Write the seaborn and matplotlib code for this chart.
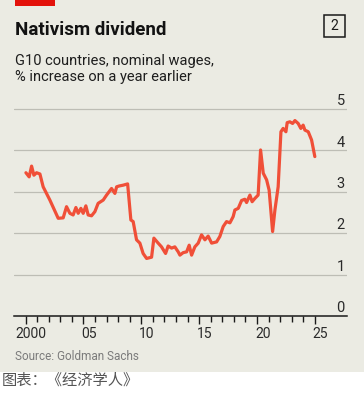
import matplotlib.pyplot as plt
import matplotlib.patches as patches
import numpy as np
import pandas as pd
import seaborn as sns

# G10 nominal wage growth, % y/y
years = [2000.03, 2000.31, 2000.52, 2000.72, 2000.95, 2001.24, 2001.52, 2002.10, 2002.82, 2003.25,
         2003.54, 2003.83, 2004.11, 2004.35, 2004.55, 2004.78, 2004.98, 2005.21, 2005.41, 2005.70,
         2005.99, 2006.27, 2006.71, 2007.00, 2007.43, 2007.72, 2007.87, 2008.09, 2008.44, 2008.82,
         2009.10, 2009.30, 2009.59, 2009.88, 2010.16, 2010.46, 2010.89, 2011.09, 2011.46, 2011.75,
         2012.10, 2012.32, 2012.62, 2012.90, 2013.19, 2013.34, 2013.62, 2013.92, 2014.14, 2014.35,
         2014.63, 2014.92, 2015.21, 2015.50, 2015.78, 2016.08, 2016.51, 2016.79, 2017.08, 2017.37,
         2017.66, 2017.94, 2018.09, 2018.38, 2018.67, 2018.95, 2019.10, 2019.39, 2019.58, 2019.82,
         2020.10, 2020.31, 2020.54, 2020.83, 2021.05, 2021.35, 2021.55, 2021.83, 2022.07, 2022.26,
         2022.50, 2022.61, 2022.84, 2023.08, 2023.28, 2023.56, 2023.79, 2023.99, 2024.14, 2024.43,
         2024.72, 2025.00]
wages = [3.46, 3.36, 3.62, 3.40, 3.46, 3.43, 3.12, 2.80, 2.36, 2.37,
         2.64, 2.48, 2.44, 2.62, 2.48, 2.60, 2.48, 2.66, 2.44, 2.42,
         2.52, 2.72, 2.80, 2.92, 3.08, 2.96, 3.12, 3.14, 3.16, 3.19,
         2.32, 2.28, 1.84, 1.76, 1.51, 1.39, 1.42, 1.88, 1.76, 1.67,
         1.51, 1.69, 1.64, 1.67, 1.55, 1.47, 1.53, 1.55, 1.71, 1.47,
         1.67, 1.76, 1.96, 1.84, 1.93, 1.76, 1.79, 1.92, 2.16, 2.28,
         2.25, 2.40, 2.56, 2.60, 2.79, 2.82, 2.74, 2.92, 2.76, 2.84,
         2.92, 4.01, 3.45, 3.29, 3.04, 2.04, 2.56, 3.12, 4.45, 4.53,
         4.45, 4.67, 4.69, 4.65, 4.72, 4.65, 4.53, 4.61, 4.49, 4.45,
         4.25, 3.85]

y_ticks = [0, 1, 2, 3, 4, 5]
x_label_years = [2000, 2005, 2010, 2015, 2020, 2025]
x_labels = ['2000', '05', '10', '15', '20', '25']

bg = '#ebebe3'
red_line = '#f04f38'

sns.set_theme(style='white')
plt.rcParams['font.family'] = ['Roboto', 'DejaVu Sans']

fig = plt.figure(figsize=(3.64, 3.98), dpi=100)
fig.patch.set_facecolor('white')

# beige panel, white strip at the bottom for the caption
fig.add_artist(patches.Rectangle((0, 26/398), 1, 1 - 26/398, transform=fig.transFigure,
                                 facecolor=bg, edgecolor='none', zorder=-10))
# red flag top left
fig.add_artist(patches.Rectangle((15/364, 1 - 6/398), 40/364, 6/398, transform=fig.transFigure,
                                 facecolor='#e3120b', edgecolor='none'))

ax = fig.add_axes([14/364, 82/398, 333/364, 209.1/398])
ax.set_facecolor('none')

df = pd.DataFrame({'year': years, 'wages': wages})
sns.lineplot(data=df, x='year', y='wages', ax=ax, color=red_line, lw=2.3, zorder=3)

ax.set_xlim(1999.0, 2027.78)
ax.set_ylim(0, 5.05)

# gridlines + labels above them, on the right
for v in y_ticks:
    if v > 0:
        ax.axhline(v, color='#bdbdb5', lw=0.9, zorder=1)
    ax.text(0.993, v + 0.09, str(v), transform=ax.get_yaxis_transform(),
            ha='right', va='baseline', fontsize=10.5, color='#2a2a2a')
ax.set_yticks([])

for s in ['top', 'right', 'left']:
    ax.spines[s].set_visible(False)
ax.spines['bottom'].set_color('#1a1a1a')
ax.spines['bottom'].set_linewidth(1.1)

ax.set_xticks(x_label_years)
ax.set_xticklabels([])
ax.set_xticks(np.arange(2000, 2026), minor=True)
ax.tick_params(axis='x', which='major', length=6, width=1, color='#1a1a1a', bottom=True)
ax.tick_params(axis='x', which='minor', length=4, width=1, color='#1a1a1a', bottom=True)
for yr, lab in zip(x_label_years, x_labels):
    ax.text(yr + 0.5, -0.086, lab, transform=ax.get_xaxis_transform(),
            ha='center', va='center', fontsize=10, color='#2a2a2a')
ax.set_xlabel('')
ax.set_ylabel('')

# titles
fig.text(15/364, 1 - 35/398, 'Nativism dividend', fontsize=13.5, fontweight='bold',
         color='#121212', va='baseline')
fig.text(15/364, 1 - 65/398, 'G10 countries, nominal wages,', fontsize=10.5,
         color='#1e1e1e', va='baseline')
fig.text(15/364, 1 - 80.5/398, '% increase on a year earlier', fontsize=10.5,
         color='#1e1e1e', va='baseline')

# chart number box
fig.add_artist(patches.Rectangle((324/364, 1 - 37/398), 21/364, 22/398, transform=fig.transFigure,
                                 facecolor='none', edgecolor='#1a1a1a', lw=1.1))
fig.text(334.5/364, 1 - 26/398, '2', fontsize=10, ha='center', va='center', color='#1a1a1a')

fig.text(15/364, 1 - 360/398, 'Source: Goldman Sachs', fontsize=8.5, color='#7b7b7b', va='baseline')
fig.text(2/364, 1 - 380/398, '图表：《经济学人》', fontsize=11, color='#555555', va='center',
         family=['Noto Sans CJK SC', 'DejaVu Sans'])

fig.savefig('out.png', dpi=100, facecolor=fig.get_facecolor())
